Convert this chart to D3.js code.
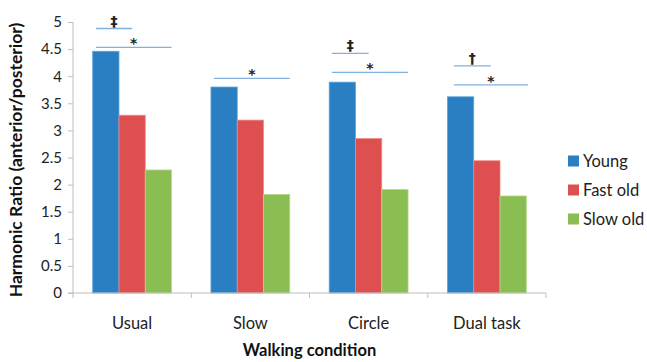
<!DOCTYPE html>
<html><head><meta charset="utf-8">
<script src="https://cdn.jsdelivr.net/npm/d3@7"></script>
<style>body{margin:0;background:#fff;}svg{display:block;font-family:Lato,"Open Sans",sans-serif;}</style>
</head><body><svg id="c" width="647" height="362"></svg>
<script>
const categories = ["Usual", "Slow", "Circle", "Dual task"];
const seriesNames = ["Young", "Fast old", "Slow old"];
const young = [4.46, 3.80, 3.89, 3.62];
const fastOld = [3.28, 3.19, 2.85, 2.44];
const slowOld = [2.27, 1.82, 1.91, 1.79];
const yTicks = [0, 0.5, 1, 1.5, 2, 2.5, 3, 3.5, 4, 4.5, 5];
const yTickLabels = ["0", "0.5", "1", "1.5", "2", "2.5", "3", "3.5", "4", "4.5", "5"];
// significance brackets: category, y value, end (series index units from group start), symbol
const sigCat = ["Usual", "Usual", "Slow", "Circle", "Circle", "Dual task", "Dual task"];
const sigY = [4.88, 4.53, 3.96, 4.42, 4.07, 4.19, 3.84];
const sigStart = [0.12, 0.12, 0.12, 0.1, 0.1, 0.24, 0.24];
const sigEnd = [1.5, 3.0, 3.0, 1.5, 3.0, 1.65, 3.07];
const sigSym = ["\u2021", "*", "*", "\u2021", "*", "\u2020", "*"];

const colors = ["#2A7EC2", "#DE4F4F", "#8BBE52"];
const strokes = ["#5EA3DA", "#F08A8A", "#B6D98C"];
const series = [young, fastOld, slowOld];

const svg = d3.select("#c");
const m = {l: 73, r: 101, t: 22, b: 69};
const W = 647, H = 362;
const x = d3.scaleBand().domain(categories).range([m.l, W - m.r]).paddingInner(0).paddingOuter(0);
const y = d3.scaleLinear().domain([0, 5]).range([H - m.b, m.t]);
const bw = x.bandwidth() / 4.5;
const gOff = bw * 0.75;

const axisColor = "#BFBFBF";
// y axis
const ya = svg.append("g").attr("transform", `translate(${m.l},0)`)
  .call(d3.axisLeft(y).tickValues(yTicks).tickFormat((d, i) => yTickLabels[i]).tickSize(5).tickPadding(6));
ya.select(".domain").attr("stroke", axisColor).attr("d", `M0,${y(5)}V${y(0)}`);
ya.selectAll(".tick line").attr("stroke", axisColor);
ya.selectAll(".tick text").attr("fill", "#222").style("font-size", "15px").style("font-family", "Lato,sans-serif");

// bars
categories.forEach((c, ci) => {
  series.forEach((s, si) => {
    svg.append("rect")
      .attr("x", x(c) + gOff + si * bw)
      .attr("y", y(s[ci]))
      .attr("width", bw)
      .attr("height", y(0) - y(s[ci]))
      .attr("fill", colors[si])
      .attr("stroke", strokes[si]).attr("stroke-width", 0.8);
  });
});

// x axis
const xa = svg.append("g").attr("transform", `translate(0,${y(0)})`);
xa.append("line").attr("x1", m.l - 5).attr("x2", W - m.r).attr("stroke", axisColor);
const bounds = categories.map(c => x(c)).concat([x(categories[3]) + x.bandwidth()]);
bounds.forEach(b => xa.append("line").attr("x1", b).attr("x2", b).attr("y1", 0).attr("y2", 5).attr("stroke", axisColor));
categories.forEach(c => xa.append("text").attr("x", x(c) + x.bandwidth() / 2).attr("y", 36)
  .attr("text-anchor", "middle").attr("fill", "#222").style("font-size", "16.5px").text(c));

// significance
sigCat.forEach((c, i) => {
  const x0 = x(c) + gOff + sigStart[i] * bw, x1 = x(c) + gOff + sigEnd[i] * bw;
  const yy = y(sigY[i]);
  svg.append("line").attr("x1", x0).attr("x2", x1).attr("y1", yy).attr("y2", yy)
    .attr("stroke", "#7FB2E0").attr("stroke-width", 1.3);
  svg.append("text").attr("x", (x0 + x1) / 2).attr("y", yy - (sigSym[i] === "*" ? -1 : 3))
    .attr("text-anchor", "middle").attr("fill", "#222")
    .style("font-size", "14px").style("font-weight", "bold")
    .style("font-family", "DejaVu Sans,sans-serif").text(sigSym[i]);
});

// axis titles
svg.append("text").attr("x", (m.l + W - m.r) / 2).attr("y", 356).attr("text-anchor", "middle")
  .attr("fill", "#111").style("font-size", "16.5px").style("font-weight", "bold").text("Walking condition");
svg.append("text").attr("transform", `translate(22,160) rotate(-90)`).attr("text-anchor", "middle")
  .attr("fill", "#111").style("font-size", "17.5px").style("font-weight", "bold").text("Harmonic Ratio (anterior/posterior)");

// legend
seriesNames.forEach((n, i) => {
  const ly = 161 + i * 29;
  svg.append("rect").attr("x", 568).attr("y", ly - 5.5).attr("width", 11).attr("height", 11).attr("fill", colors[i]);
  svg.append("text").attr("x", 583).attr("y", ly + 6).attr("fill", "#222").style("font-size", "16.5px").text(n);
});
</script></body></html>
